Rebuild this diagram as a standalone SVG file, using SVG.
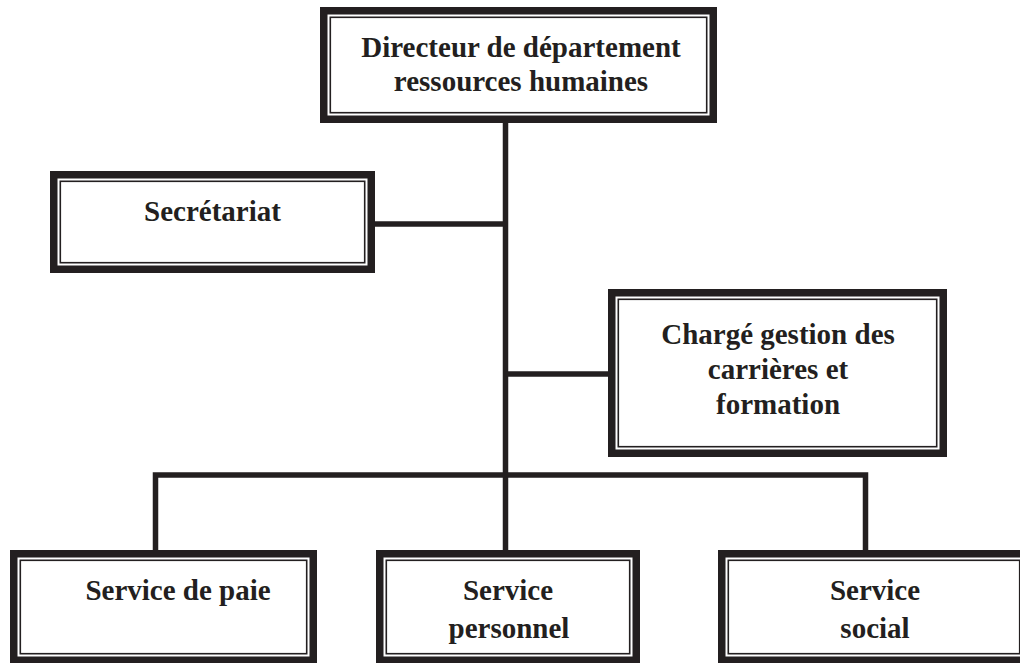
<svg xmlns="http://www.w3.org/2000/svg" width="1020" height="663" viewBox="0 0 1020 663">
  <style>
    .outer { fill: #ffffff; stroke: #231f20; stroke-width: 7.5; }
    .inner { fill: none; stroke: #231f20; stroke-width: 1.6; }
    .lbl { font-family: "Liberation Serif", "Times New Roman", serif; font-weight: bold; font-size: 29px; fill: #231f20; text-anchor: middle; }
    .conn { fill: none; stroke: #231f20; stroke-width: 5.5; stroke-linejoin: miter; stroke-linecap: butt; }
  </style>
  <rect width="1020" height="663" fill="#ffffff"/>
  <g id="connectors">
    <path class="conn" d="M505.5,123 V477"/>
    <path class="conn" d="M375,224 H505.5"/>
    <path class="conn" d="M505.5,374 H608"/>
    <path class="conn" d="M155.5,551 V475 H865.5 V551"/>
    <path class="conn" d="M505.5,475 V551"/>
  </g>
  <g id="node-directeur">
    <rect class="outer" x="323.75" y="10.75" width="389.5" height="108.5"/>
    <rect class="inner" x="330.3" y="17.3" width="376.4" height="95.4"/>
    <text class="lbl" x="521" y="57">Directeur de département</text>
    <text class="lbl" x="521" y="91">ressources humaines</text>
  </g>
  <g id="node-secretariat">
    <rect class="outer" x="53.75" y="174.75" width="317.5" height="94.5"/>
    <rect class="inner" x="60.3" y="181.3" width="304.4" height="81.4"/>
    <text class="lbl" x="212.5" y="221">Secrétariat</text>
  </g>
  <g id="node-charge">
    <rect class="outer" x="611.75" y="292.75" width="331.5" height="160.5"/>
    <rect class="inner" x="618.3" y="299.3" width="318.4" height="147.4"/>
    <text class="lbl" x="778" y="344">Chargé gestion des</text>
    <text class="lbl" x="778" y="379">carrières et</text>
    <text class="lbl" x="778" y="414">formation</text>
  </g>
  <g id="node-paie">
    <rect class="outer" x="13.75" y="553.75" width="299.5" height="106.5"/>
    <rect class="inner" x="20.3" y="560.3" width="286.4" height="93.4"/>
    <text class="lbl" x="178" y="600">Service de paie</text>
  </g>
  <g id="node-personnel">
    <rect class="outer" x="379.75" y="553.75" width="256.5" height="106.5"/>
    <rect class="inner" x="386.3" y="560.3" width="243.4" height="93.4"/>
    <text class="lbl" x="508" y="600">Service</text>
    <text class="lbl" x="509" y="638">personnel</text>
  </g>
  <g id="node-social">
    <rect class="outer" x="721.75" y="553.75" width="304.5" height="106.5"/>
    <rect class="inner" x="728.3" y="560.3" width="291.4" height="93.4"/>
    <text class="lbl" x="875" y="600">Service</text>
    <text class="lbl" x="875" y="638">social</text>
  </g>
</svg>
